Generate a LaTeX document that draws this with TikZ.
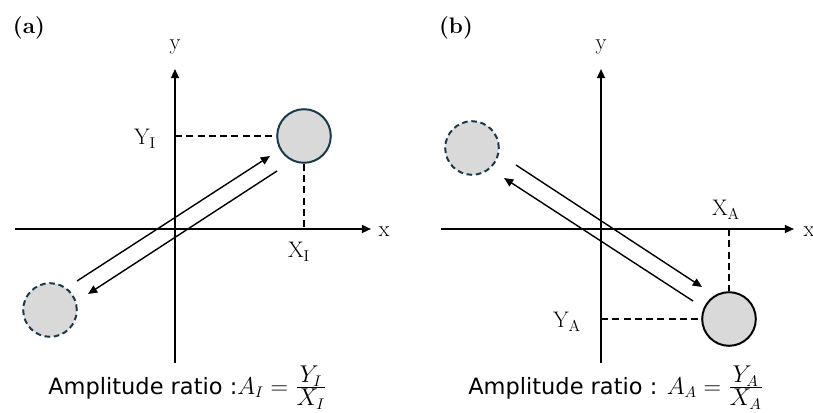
\documentclass[tikz,border=0pt]{standalone}
\usepackage{amsmath}
\usepackage{fontspec}
\newfontfamily\ampsans{DejaVu Sans}
\usepackage{tikz}
\usetikzlibrary{arrows.meta,positioning}
\definecolor{ampEdge}{HTML}{17384A}
\definecolor{ampFill}{HTML}{D9D9D9}
\newcommand{\ampfrac}[2]{\frac{\textstyle #1}{\textstyle #2}}
\tikzset{
  amp diagram/.style={x=0.025cm, y=-0.025cm, line join=round},
  amp axis/.style={-{Triangle[length=2.3mm,width=2mm]}, line width=1.3pt},
  amp move/.style={-{Triangle[length=2.3mm,width=2mm]}, line width=1pt},
  amp guide/.style={line width=1pt, dash pattern=on 5pt off 3pt},
  amp ball/.style={circle, fill=ampFill, draw=ampEdge, line width=1.4pt,
    minimum size=1.34cm, inner sep=0pt},
  amp ghost/.style={amp ball, dash pattern=on 4pt off 2.6pt},
  amp label/.style={font=\fontsize{16}{18}\selectfont, inner sep=0pt},
  amp panel/.style={font=\fontsize{16}{18}\selectfont\bfseries, inner sep=0pt},
  amp caption/.style={font=\ampsans\fontsize{16}{19}\selectfont, inner sep=0pt}
}

\begin{document}
\begin{tikzpicture}[amp diagram]
\useasboundingbox (0,0) rectangle (813,413);
% panel (a): in phase
\node[amp panel] (pa) at (29,28) {(a)};
\coordinate (ax0) at (15,229);
\coordinate (ax1) at (371,229);
\coordinate (ay0) at (175,363);
\coordinate (ay1) at (175,69);
\draw[amp axis] (ax0) -- (ax1);
\draw[amp axis] (ay0) -- (ay1);
\node[amp label] (xa) at (384,232) {x};
\node[amp label] (ya) at (175,47) {y};
\node[amp ball] (ia) at (304,136) {};
\node[amp ghost] (ga) at (50,310) {};
\coordinate (yIa) at (175,136);
\coordinate (xIa) at (304,229);
\draw[amp guide] (yIa) -- (ia.west);
\draw[amp guide] (ia.south) -- (xIa);
\node[amp label] (YI) at (145,139) {Y\textsubscript{I}};
\node[amp label] (XI) at (299,252) {X\textsubscript{I}};
\coordinate (ua0) at (77,281);
\coordinate (ua1) at (270,156);
\coordinate (da0) at (277,171);
\coordinate (da1) at (88,294);
\draw[amp move] (ua0) -- (ua1);
\draw[amp move] (da0) -- (da1);
\node[amp caption,anchor=base west] (capa) at (48,394)
  {Amplitude ratio :$A_I=\ampfrac{Y_I}{X_I}$};
% panel (b): anti phase
\node[amp panel] (pb) at (456,28) {(b)};
\coordinate (bx0) at (441,229);
\coordinate (bx1) at (794,229);
\coordinate (by0) at (601,363);
\coordinate (by1) at (601,69);
\draw[amp axis] (bx0) -- (bx1);
\draw[amp axis] (by0) -- (by1);
\node[amp label] (xb) at (809,232) {x};
\node[amp label] (yb) at (601,47) {y};
\node[amp ball,draw=black] (ib) at (729,319) {};
\node[amp ghost] (gb) at (472,148) {};
\coordinate (yAb) at (601,319);
\coordinate (xAb) at (729,229);
\draw[amp guide] (yAb) -- (ib.west);
\draw[amp guide] (xAb) -- (ib.north);
\node[amp label] (YA) at (567,322) {Y\textsubscript{A}};
\node[amp label] (XA) at (726,210) {X\textsubscript{A}};
\coordinate (ub0) at (516,165);
\coordinate (ub1) at (702,287);
\coordinate (db0) at (693,301);
\coordinate (db1) at (504,178);
\draw[amp move] (ub0) -- (ub1);
\draw[amp move] (db0) -- (db1);
\node[amp caption,anchor=base west] (capb) at (468,394)
  {Amplitude ratio : $A_A=\ampfrac{Y_A}{X_A}$};
\end{tikzpicture}
\end{document}
